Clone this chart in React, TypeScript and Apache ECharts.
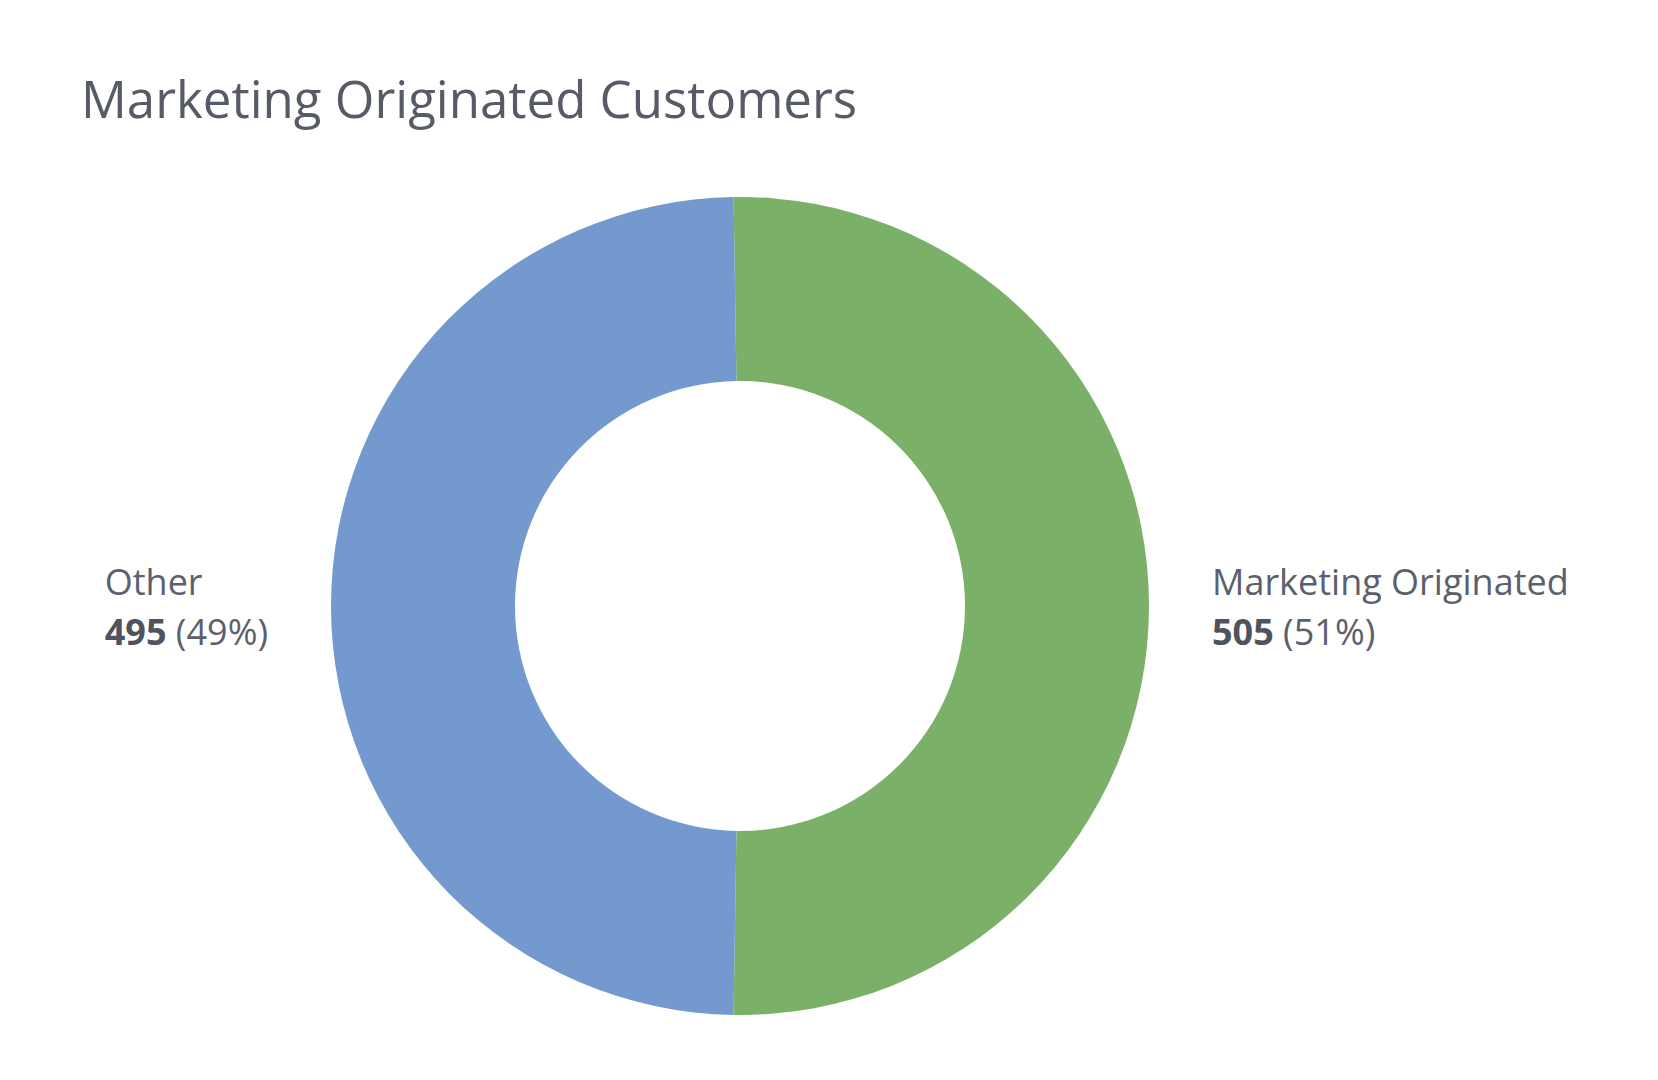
import { useEffect, useRef } from "react";
import * as echarts from "echarts";

const categories = ["Marketing Originated", "Other"];
const customerCounts = [505, 495];
const sliceColors = ["#7bb068", "#7399ce"];

// whole-number percents that still add up to 100 (largest remainder)
function roundedPercents(values: number[]) {
  const total = values.reduce((a, b) => a + b, 0);
  const raw = values.map((v) => (v / total) * 100);
  const floors = raw.map((r) => Math.floor(r));
  let left = 100 - floors.reduce((a, b) => a + b, 0);
  const order = raw
    .map((r, i) => ({ i, rem: r - Math.floor(r) }))
    .sort((a, b) => b.rem - a.rem || a.i - b.i);
  for (const o of order) {
    if (left <= 0) break;
    floors[o.i] += 1;
    left -= 1;
  }
  return floors;
}

const percents = roundedPercents(customerCounts);

// keep the first slice centred on the right-hand side, so both labels sit level
const total = customerCounts.reduce((a, b) => a + b, 0);
const startAngle = 90 + ((customerCounts[0] / total) * 360 - 180) / 2;

export default function App() {
  const chartRef = useRef<HTMLDivElement>(null);

  useEffect(() => {
    if (!chartRef.current) return;
    const chart = echarts.init(chartRef.current, undefined, { renderer: "svg" });

    const fontFamily = "'Open Sans', 'Noto Sans', sans-serif";

    chart.setOption({
      animation: false,
      backgroundColor: "#ffffff",
      title: {
        text: "Marketing Originated Customers",
        left: 76,
        top: 67,
        textStyle: {
          color: "#575b67",
          fontSize: 51,
          fontWeight: "normal",
          fontFamily,
        },
      },
      series: [
        {
          type: "pie",
          center: [740, 606],
          radius: [225, 409],
          startAngle,
          clockwise: true,
          avoidLabelOverlap: false,
          silent: true,
          label: {
            show: true,
            position: "outside",
            distanceToLabelLine: 5,
            formatter: (p: any) =>
              `{n|${p.name}}\n{v|${p.value}}{p| (${percents[p.dataIndex]}%)}`,
            rich: {
              n: {
                fontSize: 36,
                lineHeight: 50,
                color: "#5c606c",
                fontFamily,
                align: "left",
              },
              v: {
                fontSize: 36,
                lineHeight: 50,
                fontWeight: "bold",
                color: "#4f535e",
                fontFamily,
                align: "left",
              },
              p: {
                fontSize: 36,
                lineHeight: 50,
                color: "#5c606c",
                fontFamily,
                align: "left",
              },
            },
          },
          labelLine: { show: false, length: 30, length2: 28 },
          data: categories.map((name, i) => ({
            name,
            value: customerCounts[i],
            itemStyle: { color: sliceColors[i] },
          })),
        },
      ],
    });

    const onResize = () => chart.resize();
    window.addEventListener("resize", onResize);
    return () => {
      window.removeEventListener("resize", onResize);
      chart.dispose();
    };
  }, []);

  return (
    <div
      ref={chartRef}
      style={{ position: "fixed", left: 0, top: 0, width: "1658px", height: "1080px" }}
    />
  );
}
